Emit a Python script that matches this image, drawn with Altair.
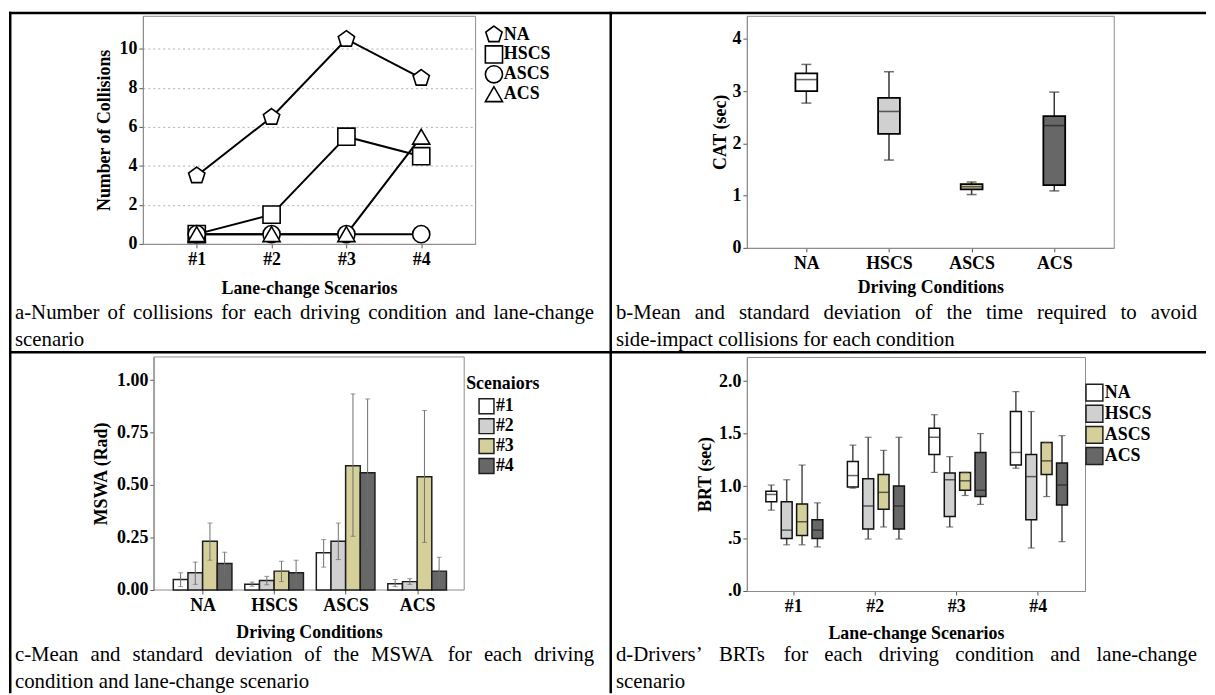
import altair as alt
import pandas as pd

SERIF = "Liberation Serif"

scenarios = ["#1", "#2", "#3", "#4"]
conditions = ["NA", "HSCS", "ASCS", "ACS"]

# (a) number of collisions, over scenarios #1..#4
collisions_NA = [3.5, 6.5, 10.5, 8.5]
collisions_HSCS = [0.5, 1.5, 5.5, 4.5]
collisions_ASCS = [0.5, 0.5, 0.5, 0.5]
collisions_ACS = [0.5, 0.5, 0.5, 5.5]

# (b) CAT box statistics, over conditions NA, HSCS, ASCS, ACS
cat_low = [2.77, 1.68, 1.02, 1.09]
cat_q1 = [3.00, 2.18, 1.12, 1.20]
cat_median = [3.22, 2.61, 1.17, 2.34]
cat_q3 = [3.34, 2.87, 1.22, 2.52]
cat_high = [3.51, 3.37, 1.26, 2.98]

# (c) MSWA per scenario, each list over conditions NA, HSCS, ASCS, ACS
mswa_mean = {"#1": [0.050, 0.028, 0.177, 0.030], "#2": [0.082, 0.045, 0.232, 0.040],
             "#3": [0.232, 0.090, 0.592, 0.540], "#4": [0.126, 0.082, 0.559, 0.090]}
mswa_lo = {"#1": [0.016, 0.018, 0.109, 0.016], "#2": [0.027, 0.025, 0.145, 0.027],
           "#3": [0.142, 0.040, 0.256, 0.227], "#4": [0.070, 0.020, 0.205, 0.022]}
mswa_hi = {"#1": [0.082, 0.038, 0.240, 0.050], "#2": [0.133, 0.065, 0.319, 0.054],
           "#3": [0.319, 0.137, 0.934, 0.855], "#4": [0.180, 0.142, 0.910, 0.156]}

# (d) BRT box statistics per condition, each list over scenarios #1..#4
brt_low = {"NA": [0.77, 0.98, 1.13, 1.17], "HSCS": [0.44, 0.495, 0.61, 0.41],
           "ASCS": [0.44, 0.61, 0.91, 0.90], "ACS": [0.42, 0.495, 0.825, 0.47]}
brt_q1 = {"NA": [0.85, 0.99, 1.30, 1.20], "HSCS": [0.50, 0.59, 0.71, 0.68],
          "ASCS": [0.53, 0.78, 0.96, 1.11], "ACS": [0.50, 0.59, 0.90, 0.82]}
brt_median = {"NA": [0.92, 1.10, 1.465, 1.32], "HSCS": [0.58, 0.81, 1.06, 1.09],
              "ASCS": [0.66, 0.94, 1.05, 1.24], "ACS": [0.58, 0.81, 0.96, 1.01]}
brt_q3 = {"NA": [0.95, 1.235, 1.55, 1.71], "HSCS": [0.85, 1.07, 1.125, 1.30],
          "ASCS": [0.83, 1.11, 1.13, 1.415], "ACS": [0.68, 1.00, 1.32, 1.22]}
brt_high = {"NA": [1.01, 1.39, 1.68, 1.90], "HSCS": [1.06, 1.465, 1.28, 1.71],
            "ASCS": [1.20, 1.34, 1.13, 1.415], "ACS": [0.84, 1.465, 1.50, 1.48]}

scenario_legend_title = "Scenaiors"

captions = {
    "a": ["a-Number of collisions for each driving condition and lane-change", "scenario"],
    "b": ["b-Mean and standard deviation of the time required to avoid",
          "side-impact collisions for each condition"],
    "c": ["c-Mean and standard deviation of the MSWA for each driving",
          "condition and lane-change scenario"],
    "d": ["d-Drivers\u2019 BRTs for each driving condition and lane-change", "scenario"],
}

# ---------------- styling / layout constants ----------------
FILLS = ["#ffffff", "#d0d0d0", "#d5d09a", "#676767"]
FRAME = "#8c8c8c"
PENTAGON = "M0,-1L0.951,-0.309L0.588,0.809L-0.588,0.809L-0.951,-0.309Z"
ORIGIN = (143, 12)          # page position of panel a's plot area
CAP_FS = 21
LEG_FS = 18
TIMES_W = {' ': 250, '-': 333, '\u2019': 333, "'": 180,
           'a': 444, 'b': 500, 'c': 444, 'd': 500, 'e': 444, 'f': 333, 'g': 500, 'h': 500,
           'i': 278, 'j': 278, 'k': 500, 'l': 278, 'm': 778, 'n': 500, 'o': 500, 'p': 500,
           'q': 500, 'r': 333, 's': 389, 't': 278, 'u': 500, 'v': 500, 'w': 722, 'x': 500,
           'y': 500, 'z': 444, 'A': 722, 'B': 667, 'C': 667, 'D': 722, 'M': 889, 'N': 722,
           'R': 667, 'S': 556, 'T': 611, 'W': 944}


def text_w(s):
    return sum(TIMES_W.get(ch, 500) for ch in s) * CAP_FS / 1000.0


def caption_rows(lines, x0, x1, y0, dy):
    rows = []
    for li, line in enumerate(lines):
        y = y0 + li * dy - ORIGIN[1]
        if li == 0:
            words = line.split(" ")
            widths = [text_w(w) for w in words]
            gap = (x1 - x0 - sum(widths)) / (len(words) - 1)
            x = x0
            for w, wd in zip(words, widths):
                rows.append({"text": w, "px": x - ORIGIN[0], "py": y})
                x += wd + gap
        else:
            rows.append({"text": line, "px": x0 - ORIGIN[0], "py": y})
    return rows


cap_rows = (caption_rows(captions["a"], 14, 598, 318, 27)
            + caption_rows(captions["b"], 620, 1206, 318, 27)
            + caption_rows(captions["c"], 14, 598, 663, 27)
            + caption_rows(captions["d"], 620, 1206, 663, 27))
df_cap = pd.DataFrame(cap_rows)
ONE = pd.DataFrame({"k": [0]})


def legend_rows(field, keys, sx, tx, y0, dy):
    return pd.DataFrame({field: keys, "lx": [sx] * len(keys), "tx": [tx] * len(keys),
                         "ly": [y0 + i * dy for i in range(len(keys))]})


def px(f):
    return alt.X(f, scale=None, axis=None)


def py(f):
    return alt.Y(f, scale=None, axis=None)


def legend_text(df, field):
    return alt.Chart(df).mark_text(
        align="left", baseline="middle", font=SERIF, fontSize=LEG_FS, fontWeight="bold", color="black"
    ).encode(x=px("tx:Q"), y=py("ly:Q"), text=f"{field}:N")


def page_rect(x1, x2, y1, y2):
    return alt.Chart(ONE).mark_rect(color="black").encode(
        x=alt.value(x1 - ORIGIN[0]), x2=alt.value(x2 - ORIGIN[0]),
        y=alt.value(y1 - ORIGIN[1]), y2=alt.value(y2 - ORIGIN[1]))


def label_expr(keys):
    return "[" + ",".join(f"'{k}'" for k in keys) + "][datum.value]"


def idx_expr(keys, field):
    return "indexof([" + ",".join(f"'{k}'" for k in keys) + f"], datum.{field})"


table_layers = [
    page_rect(8, 1215, 8, 10.5),
    page_rect(8, 10.5, 8, 695),
    page_rect(613.5, 616, 8, 695),
    page_rect(8, 1215, 350, 352.5),
]

cap_layer = alt.Chart(df_cap).mark_text(
    align="left", baseline="alphabetic", font=SERIF, fontSize=CAP_FS, color="black"
).encode(x=px("px:Q"), y=py("py:Q"), text="text:N")

# ---------------- panel a ----------------
rows_a = []
for c, vals in zip(conditions, [collisions_NA, collisions_HSCS, collisions_ASCS, collisions_ACS]):
    for s, v in zip(scenarios, vals):
        rows_a.append({"scenario": s, "condition": c, "collisions": v})
df_a = pd.DataFrame(rows_a)

shape_scale = alt.Scale(domain=conditions, range=[PENTAGON, "square", "circle", "triangle-up"])
xa = alt.X("scenario:N", sort=scenarios,
           scale=alt.Scale(type="point", domain=scenarios, padding=0.72),
           axis=alt.Axis(title="Lane-change Scenarios", labelAngle=0, labelPadding=3, titlePadding=11))
ya = alt.Y("collisions:Q", scale=alt.Scale(domain=[0, 11.7], nice=False),
           axis=alt.Axis(title="Number of Collisions", values=[0, 2, 4, 6, 8, 10], grid=True,
                         gridColor="#b0b0b0", gridDash=[2, 3], labelPadding=2, titlePadding=6))

a_lines = alt.Chart(df_a).mark_line(color="black", strokeWidth=2).encode(
    x=xa, y=ya, detail="condition:N")
a_points = alt.Chart(df_a).mark_point(
    filled=True, fill="white", stroke="black", strokeWidth=1.6, size=300, opacity=1
).encode(x=xa, y=ya, shape=alt.Shape("condition:N", scale=shape_scale, legend=None))

leg_a = legend_rows("condition", conditions, 354, 364, 19, 20)
a_leg_sym = alt.Chart(leg_a).mark_point(
    filled=True, fill="white", stroke="black", strokeWidth=1.6, size=300, opacity=1
).encode(x=px("lx:Q"), y=py("ly:Q"), shape=alt.Shape("condition:N", scale=shape_scale, legend=None))
a_leg_txt = legend_text(leg_a, "condition")

panel_a = alt.layer(*table_layers, a_lines, a_points, a_leg_sym, a_leg_txt, cap_layer).properties(
    width=335, height=230)

# ---------------- panel b ----------------
df_b = pd.DataFrame({"condition": conditions, "low": cat_low, "q1": cat_q1,
                     "median": cat_median, "q3": cat_q3, "high": cat_high})
xb = alt.X("condition:N", sort=conditions,
           scale=alt.Scale(type="point", domain=conditions, padding=0.72),
           axis=alt.Axis(title="Driving Conditions", labelAngle=0, labelPadding=3, titlePadding=6))
yb_scale = alt.Scale(domain=[0, 4.44], nice=False)
yb_axis = alt.Axis(title="CAT (sec)", values=[0, 1, 2, 3, 4], labelPadding=2, titlePadding=3)


def yb(f):
    return alt.Y(f, scale=yb_scale, axis=yb_axis)


base_b = alt.Chart(df_b)
b_whisk = base_b.mark_rule(color="#333333", strokeWidth=1.5).encode(x=xb, y=yb("low:Q"), y2="high:Q")
b_box = base_b.mark_bar(size=22, stroke="black", strokeWidth=1.8, opacity=1).encode(
    x=xb, y=yb("q1:Q"), y2="q3:Q",
    color=alt.Color("condition:N", scale=alt.Scale(domain=conditions, range=FILLS), legend=None))
b_med = base_b.mark_tick(size=22, thickness=1.6, color="#222222").encode(x=xb, y=yb("median:Q"))
b_cap_lo = base_b.mark_tick(size=10, thickness=1.5, color="#333333").encode(x=xb, y=yb("low:Q"))
b_cap_hi = base_b.mark_tick(size=10, thickness=1.5, color="#333333").encode(x=xb, y=yb("high:Q"))
panel_b = alt.layer(b_whisk, b_box, b_med, b_cap_lo, b_cap_hi).properties(width=370, height=234)

# ---------------- panel c ----------------
rows_c = []
for s in scenarios:
    for i, c in enumerate(conditions):
        rows_c.append({"condition": c, "scenario": s, "mean": mswa_mean[s][i],
                       "lo": mswa_lo[s][i], "hi": mswa_hi[s][i]})
df_c = pd.DataFrame(rows_c)
C_OFF, C_W, C_H = 11, 324, 235
C_STEP, C_FIRST = 74.4, 57.0          # px between groups, px of first group centre
C_BAR = 15.25 / C_STEP                 # one bar width in group units
c_scale = alt.Scale(domain=[-C_FIRST / C_STEP, (C_W - C_FIRST) / C_STEP], nice=False, zero=False)
c_axis = alt.Axis(title="Driving Conditions", values=[0, 1, 2, 3], labelExpr=label_expr(conditions),
                  domain=False, grid=False, labelPadding=3, titlePadding=9, titleX=(C_OFF + C_W) / 2)


def xc(f):
    return alt.X(f, scale=c_scale, axis=c_axis)


yc_scale = alt.Scale(domain=[0, 1.11], nice=False, zero=True)
yc_axis = alt.Axis(title="MSWA (Rad)", values=[0, 0.25, 0.5, 0.75, 1.0], format=".2f",
                   offset=-C_OFF, labelPadding=2, titlePadding=6)


def yc(f):
    return alt.Y(f, scale=yc_scale, axis=yc_axis)


scen_color = alt.Scale(domain=scenarios, range=FILLS)
base_c = alt.Chart(df_c).transform_calculate(
    ci=idx_expr(conditions, "condition"), sj=idx_expr(scenarios, "scenario")
).transform_calculate(
    xm=f"datum.ci + (datum.sj - 1.5) * {C_BAR}"
).transform_calculate(
    x1=f"datum.xm - {C_BAR / 2}", x2=f"datum.xm + {C_BAR / 2}"
)
c_frame = alt.Chart(ONE).mark_rect(fill="white", fillOpacity=0, stroke=FRAME, strokeWidth=1).encode(
    x=alt.value(C_OFF), x2=alt.value(C_W), y=alt.value(0), y2=alt.value(C_H))
c_bars = base_c.mark_bar(stroke="#1e1e1e", strokeWidth=1.5, opacity=1, orient="vertical").encode(
    x=xc("x1:Q"), x2="x2:Q", y=yc("mean:Q"), y2=alt.datum(0),
    color=alt.Color("scenario:N", sort=scenarios, scale=scen_color, legend=None))
c_err = base_c.mark_rule(color="#6e6e6e", strokeWidth=1).encode(x=xc("xm:Q"), y=yc("lo:Q"), y2="hi:Q")
c_cap_lo = base_c.mark_tick(orient="horizontal", size=5, thickness=1, color="#6e6e6e").encode(
    x=xc("xm:Q"), y=yc("lo:Q"))
c_cap_hi = base_c.mark_tick(orient="horizontal", size=5, thickness=1, color="#6e6e6e").encode(
    x=xc("xm:Q"), y=yc("hi:Q"))
c_title = alt.Chart(pd.DataFrame({"t": [scenario_legend_title]})).mark_text(
    align="left", baseline="middle", font=SERIF, fontSize=LEG_FS, fontWeight="bold", color="black"
).encode(x=alt.value(326), y=alt.value(27), text="t:N")
leg_c = legend_rows("scenario", scenarios, 346.5, 356, 49.7, 20.1)
c_leg_sym = alt.Chart(leg_c).mark_square(size=225, stroke="#1e1e1e", strokeWidth=1.5, opacity=1).encode(
    x=px("lx:Q"), y=py("ly:Q"), color=alt.Color("scenario:N", scale=scen_color, legend=None))
c_leg_txt = legend_text(leg_c, "scenario")
panel_c = alt.layer(c_frame, c_bars, c_err, c_cap_lo, c_cap_hi, c_title, c_leg_sym, c_leg_txt).properties(
    width=C_W, height=C_H, view=alt.ViewBackground(stroke="transparent"))

# ---------------- panel d ----------------
rows_d = []
for c in conditions:
    for j, s in enumerate(scenarios):
        rows_d.append({"scenario": s, "condition": c, "low": brt_low[c][j], "q1": brt_q1[c][j],
                       "median": brt_median[c][j], "q3": brt_q3[c][j], "high": brt_high[c][j]})
df_d = pd.DataFrame(rows_d)
D_W, D_H = 341, 236
D_STEP, D_FIRST = 82.2, 46.7
D_SLOT = 15.5 / D_STEP                 # spacing between boxes, group units
D_HALF = 5.5 / D_STEP                  # half box width, group units
d_scale = alt.Scale(domain=[-D_FIRST / D_STEP, (D_W - D_FIRST) / D_STEP], nice=False, zero=False)
d_axis = alt.Axis(title="Lane-change Scenarios", values=[0, 1, 2, 3], labelExpr=label_expr(scenarios),
                  grid=False, labelPadding=3, titlePadding=9)


def xd(f):
    return alt.X(f, scale=d_scale, axis=d_axis)


yd_scale = alt.Scale(domain=[0, 2.23], nice=False)
yd_axis = alt.Axis(title="BRT (sec)", values=[0, 0.5, 1.0, 1.5, 2.0], labelPadding=2, titlePadding=4,
                   labelExpr="datum.value < 1 ? replace(format(datum.value, '.1f'), '0.', '.') : format(datum.value, '.1f')")


def yd(f):
    return alt.Y(f, scale=yd_scale, axis=yd_axis)


cond_color = alt.Scale(domain=conditions, range=FILLS)
base_d = alt.Chart(df_d).transform_calculate(
    si=idx_expr(scenarios, "scenario"), cj=idx_expr(conditions, "condition")
).transform_calculate(
    xm=f"datum.si + (datum.cj - 1.5) * {D_SLOT} + 0.015"
).transform_calculate(
    x1=f"datum.xm - {D_HALF}", x2=f"datum.xm + {D_HALF}"
)
d_whisk = base_d.mark_rule(color="#4a4a4a", strokeWidth=1.5).encode(x=xd("xm:Q"), y=yd("low:Q"), y2="high:Q")
d_box = base_d.mark_bar(stroke="#111111", strokeWidth=1.5, opacity=1).encode(
    x=xd("x1:Q"), x2="x2:Q", y=yd("q1:Q"), y2="q3:Q",
    color=alt.Color("condition:N", sort=conditions, scale=cond_color, legend=None))
d_med = base_d.mark_tick(orient="horizontal", size=11, thickness=1.5, color="#222222").encode(
    x=xd("xm:Q"), y=yd("median:Q"))
d_cap_lo = base_d.mark_tick(orient="horizontal", size=7, thickness=1.2, color="#4a4a4a").encode(
    x=xd("xm:Q"), y=yd("low:Q"))
d_cap_hi = base_d.mark_tick(orient="horizontal", size=7, thickness=1.2, color="#4a4a4a").encode(
    x=xd("xm:Q"), y=yd("high:Q"))
leg_d = legend_rows("condition", conditions, 350.5, 361, 36, 21.3)
d_leg_sym = alt.Chart(leg_d).mark_square(size=289, stroke="#1e1e1e", strokeWidth=1.5, opacity=1).encode(
    x=px("lx:Q"), y=py("ly:Q"), color=alt.Color("condition:N", scale=cond_color, legend=None))
d_leg_txt = legend_text(leg_d, "condition")
panel_d = alt.layer(d_whisk, d_box, d_med, d_cap_lo, d_cap_hi, d_leg_sym, d_leg_txt).properties(
    width=D_W, height=D_H)

# ---------------- assemble ----------------
chart = alt.concat(
    panel_a, panel_b, panel_c, panel_d,
    columns=2,
    spacing={"row": 110, "column": 274},
    bounds="flush",
    align={"row": "each", "column": "none"},
).properties(
    padding=0, background="white"
).configure_view(
    stroke=FRAME, strokeWidth=1
).configure_axis(
    labelFont=SERIF, labelFontSize=18, labelFontWeight="bold", labelColor="black",
    titleFont=SERIF, titleFontSize=18, titleFontWeight="bold", titleColor="black",
    domainColor=FRAME, tickColor="#555555", tickSize=4, grid=False,
)

chart.save("out.html", embed_options={"renderer": "svg", "actions": False})
